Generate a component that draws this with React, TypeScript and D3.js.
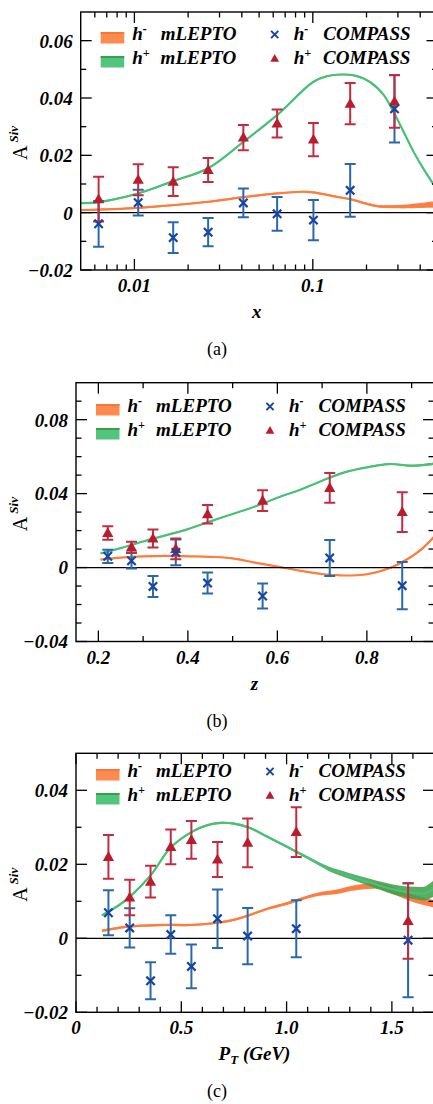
import React from 'react';
import * as d3 from 'd3';

const FONT = '"Liberation Serif", "Times New Roman", serif';

// ---------------- Panel (a): x ----------------
const binsA = [0.0063, 0.0105, 0.0165, 0.0259, 0.0408, 0.0631, 0.1008, 0.162, 0.287];
const hPlusA = [0.0047, 0.0115, 0.0108, 0.0149, 0.0262, 0.0311, 0.0255, 0.038, 0.0388];
const hPlusErrA = [0.0078, 0.0054, 0.005, 0.0042, 0.0044, 0.0049, 0.0058, 0.0072, 0.0092];
const hMinusA = [-0.0039, 0.0035, -0.0087, -0.0068, 0.0034, -0.0004, -0.0026, 0.0078, 0.0362];
const hMinusErrA = [0.008, 0.0045, 0.0054, 0.0049, 0.005, 0.0059, 0.007, 0.0092, 0.0117];
const lepPlusXA = [0.005, 0.0063, 0.0105, 0.0165, 0.0259, 0.0408, 0.063, 0.1, 0.12, 0.145, 0.175, 0.21, 0.25, 0.287, 0.33, 0.371, 0.42, 0.479, 0.5];
const lepPlusA = [0.0033, 0.0037, 0.0067, 0.011, 0.0155, 0.0247, 0.034, 0.0455, 0.0476, 0.0482, 0.0477, 0.0455, 0.041, 0.0345, 0.027, 0.0207, 0.015, 0.0096, 0.0082];
const lepPlusWA = [0.0003, 0.0003, 0.0003, 0.0003, 0.0003, 0.0003, 0.0003, 0.0003, 0.0003, 0.0003, 0.0003, 0.0003, 0.0003, 0.0003, 0.0003, 0.0003, 0.0003, 0.0004, 0.0004];
const lepMinusXA = [0.005, 0.0105, 0.0259, 0.0408, 0.063, 0.087, 0.1, 0.135, 0.162, 0.225, 0.3, 0.4, 0.5];
const lepMinusA = [0.0009, 0.0017, 0.0038, 0.0054, 0.0067, 0.0073, 0.0071, 0.0056, 0.0047, 0.0024, 0.0021, 0.0025, 0.0029];
const lepMinusWA = [0.0003, 0.0003, 0.0003, 0.0003, 0.0003, 0.0003, 0.0003, 0.0003, 0.0003, 0.0004, 0.0006, 0.0009, 0.0012];
const yMajorA = [-0.02, 0, 0.02, 0.04, 0.06];
const yMajorLabelsA = ['\u22120.02', '0', '0.02', '0.04', '0.06'];
const yMinorA = [-0.01, 0.01, 0.03, 0.05];
const xMajorA = [0.01, 0.1];
const xMajorLabelsA = ['0.01', '0.1'];
const xMinorA = [0.006, 0.007, 0.008, 0.009, 0.02, 0.03, 0.04, 0.05, 0.06, 0.07, 0.08, 0.09, 0.2, 0.3, 0.4];

// ---------------- Panel (b): z ----------------
const binsB = [0.221, 0.274, 0.322, 0.373, 0.444, 0.567, 0.717, 0.879];
const hPlusB = [0.0187, 0.011, 0.0157, 0.0101, 0.0288, 0.0362, 0.0431, 0.03];
const hPlusErrB = [0.0036, 0.0029, 0.0049, 0.0056, 0.005, 0.0056, 0.008, 0.0108];
const hMinusB = [0.0061, 0.0037, -0.0102, 0.0082, -0.0084, -0.0154, 0.0052, -0.0098];
const hMinusErrB = [0.0036, 0.0042, 0.0057, 0.007, 0.0057, 0.0068, 0.0097, 0.0128];
const lepPlusXB = [0.205, 0.25, 0.3, 0.35, 0.4, 0.45, 0.5, 0.55, 0.6, 0.65, 0.7, 0.75, 0.8, 0.85, 0.9, 0.95];
const lepPlusB = [0.0076, 0.0105, 0.0141, 0.0174, 0.0208, 0.025, 0.029, 0.033, 0.0378, 0.042, 0.047, 0.0515, 0.0542, 0.056, 0.0551, 0.0562];
const lepPlusWB = [0.0003, 0.0003, 0.0003, 0.0003, 0.0003, 0.0003, 0.0003, 0.0003, 0.0003, 0.0003, 0.0003, 0.0003, 0.0004, 0.0004, 0.0005, 0.0006];
const lepMinusXB = [0.205, 0.25, 0.3, 0.35, 0.4, 0.45, 0.5, 0.55, 0.6, 0.65, 0.7, 0.75, 0.8, 0.85, 0.9, 0.925, 0.95];
const lepMinusB = [0.0043, 0.0054, 0.0061, 0.0063, 0.0061, 0.0058, 0.005, 0.0027, 0.0005, -0.0017, -0.0035, -0.0043, -0.0036, -0.0004, 0.006, 0.0105, 0.0166];
const lepMinusWB = [0.0003, 0.0003, 0.0003, 0.0003, 0.0003, 0.0003, 0.0003, 0.0003, 0.0003, 0.0003, 0.0003, 0.0003, 0.0004, 0.0004, 0.0005, 0.0006, 0.0007];
const yMajorB = [-0.04, 0, 0.04, 0.08];
const yMajorLabelsB = ['\u22120.04', '0', '0.04', '0.08'];
const yMinorB = [-0.03, -0.02, -0.01, 0.01, 0.02, 0.03, 0.05, 0.06, 0.07, 0.09];
const xMajorB = [0.2, 0.4, 0.6, 0.8];
const xMajorLabelsB = ['0.2', '0.4', '0.6', '0.8'];
const xMinorB = [0.3, 0.5, 0.7, 0.9];

// ---------------- Panel (c): P_T ----------------
const binsC = [0.154, 0.255, 0.354, 0.45, 0.548, 0.672, 0.815, 1.046, 1.577];
const hPlusC = [0.022, 0.011, 0.0153, 0.0247, 0.0266, 0.0213, 0.0258, 0.0287, 0.0047];
const hPlusErrC = [0.0059, 0.0048, 0.0043, 0.0047, 0.0051, 0.0047, 0.0066, 0.0067, 0.0102];
const hMinusC = [0.0069, 0.0028, -0.0115, 0.001, -0.0076, 0.0053, 0.0006, 0.0026, -0.0005];
const hMinusErrC = [0.0061, 0.0053, 0.005, 0.0052, 0.0059, 0.0079, 0.0076, 0.0077, 0.0154];
const lepPlusXC = [0.123, 0.2, 0.255, 0.354, 0.449, 0.548, 0.62, 0.688, 0.75, 0.823, 0.9, 1.0, 1.1, 1.2, 1.3, 1.4, 1.5, 1.6, 1.66, 1.7];
const lepPlusC = [0.0062, 0.0088, 0.0112, 0.017, 0.0245, 0.0287, 0.0305, 0.0312, 0.031, 0.0299, 0.0277, 0.0248, 0.0218, 0.0188, 0.0168, 0.015, 0.0133, 0.0123, 0.0122, 0.0135];
const lepPlusWC = [0.0003, 0.0003, 0.0003, 0.0003, 0.0003, 0.0003, 0.0003, 0.0003, 0.0003, 0.0003, 0.0003, 0.0003, 0.0004, 0.0006, 0.0008, 0.001, 0.0013, 0.0016, 0.0019, 0.0022];
const lepMinusXC = [0.123, 0.255, 0.354, 0.45, 0.55, 0.67, 0.75, 0.82, 0.9, 1.0, 1.05, 1.15, 1.23, 1.33, 1.44, 1.5, 1.55, 1.6, 1.7];
const lepMinusC = [0.002, 0.0032, 0.0035, 0.0036, 0.0036, 0.0042, 0.005, 0.0062, 0.0078, 0.0094, 0.0103, 0.0119, 0.0125, 0.0137, 0.0141, 0.013, 0.0118, 0.0108, 0.0093];
const lepMinusWC = [0.0003, 0.0003, 0.0003, 0.0003, 0.0003, 0.0003, 0.0003, 0.0003, 0.0003, 0.0004, 0.0004, 0.0005, 0.0006, 0.0007, 0.0008, 0.0009, 0.0009, 0.001, 0.001];
const yMajorC = [-0.02, 0, 0.02, 0.04];
const yMajorLabelsC = ['\u22120.02', '0', '0.02', '0.04'];
const yMinorC = [-0.01, 0.01, 0.03];
const xMajorC = [0, 0.5, 1.0, 1.5];
const xMajorLabelsC = ['0', '0.5', '1.0', '1.5'];
const xMinorC = [0.1, 0.2, 0.3, 0.4, 0.6, 0.7, 0.8, 0.9, 1.1, 1.2, 1.3, 1.4, 1.6];

// ---------------- styles ----------------
const ORANGE = '#ff7d3b';
const ORANGE_BAND = '#f7773a';
const GREEN = '#48c177';
const GREEN_BAND = '#3b9f48';
const RED = '#b81c2d';
const RED_BAR = '#c12d3f';
const BLUE = '#1745a0';
const BLUE_BAR = '#2a68ad';

const zip = (xs: number[], ys: number[], ws: number[]) => xs.map((x, i) => ({ x, y: ys[i], w: ws[i] }));

type PanelCfg = {
  x: any; y: any; left: number; right: number; top: number; bottom: number;
  bins: number[]; hPlus: number[]; hPlusErr: number[]; hMinus: number[]; hMinusErr: number[];
  lepPlus: { x: number; y: number; w: number }[]; lepMinus: { x: number; y: number; w: number }[];
  yMajor: number[]; yMajorLabels: string[]; yMinor: number[];
  xMajor: number[]; xMajorLabels: string[]; xMinor: number[];
  legendY: number; xTitle: React.ReactNode; caption: string; id: string;
};

const panels: PanelCfg[] = [
  {
    id: 'a',
    x: d3.scaleLog().domain([0.005, 0.5]).range([80.7, 437.5]),
    y: d3.scaleLinear().domain([-0.02, 0.07]).range([270, 12]),
    left: 80.7, right: 437.5, top: 12, bottom: 270,
    bins: binsA, hPlus: hPlusA, hPlusErr: hPlusErrA, hMinus: hMinusA, hMinusErr: hMinusErrA,
    lepPlus: zip(lepPlusXA, lepPlusA, lepPlusWA), lepMinus: zip(lepMinusXA, lepMinusA, lepMinusWA),
    yMajor: yMajorA, yMajorLabels: yMajorLabelsA, yMinor: yMinorA,
    xMajor: xMajorA, xMajorLabels: xMajorLabelsA, xMinor: xMinorA,
    legendY: 39.5, xTitle: 'x', caption: '(a)',
  },
  {
    id: 'b',
    x: d3.scaleLinear().domain([0.15, 0.95]).range([76, 434]),
    y: d3.scaleLinear().domain([-0.04, 0.1]).range([641.5, 382.7]),
    left: 76, right: 434, top: 382.7, bottom: 641.5,
    bins: binsB, hPlus: hPlusB, hPlusErr: hPlusErrB, hMinus: hMinusB, hMinusErr: hMinusErrB,
    lepPlus: zip(lepPlusXB, lepPlusB, lepPlusWB), lepMinus: zip(lepMinusXB, lepMinusB, lepMinusWB),
    yMajor: yMajorB, yMajorLabels: yMajorLabelsB, yMinor: yMinorB,
    xMajor: xMajorB, xMajorLabels: xMajorLabelsB, xMinor: xMinorB,
    legendY: 411.5, xTitle: 'z', caption: '(b)',
  },
  {
    id: 'c',
    x: d3.scaleLinear().domain([0, 1.7]).range([76, 434]),
    y: d3.scaleLinear().domain([-0.02, 0.05]).range([1012.3, 753.3]),
    left: 76, right: 434, top: 753.3, bottom: 1012.3,
    bins: binsC, hPlus: hPlusC, hPlusErr: hPlusErrC, hMinus: hMinusC, hMinusErr: hMinusErrC,
    lepPlus: zip(lepPlusXC, lepPlusC, lepPlusWC), lepMinus: zip(lepMinusXC, lepMinusC, lepMinusWC),
    yMajor: yMajorC, yMajorLabels: yMajorLabelsC, yMinor: yMinorC,
    xMajor: xMajorC, xMajorLabels: xMajorLabelsC, xMinor: xMinorC,
    legendY: 776.5,
    xTitle: (
      <>
        P<tspan fontSize={13} dy={4}>T</tspan>
        <tspan dy={-4}> (GeV)</tspan>
      </>
    ),
    caption: '(c)',
  },
];

const MAJ = 11;
const MIN = 5.5;
const TRI = 'M0,-5.8L5.6,4L-5.6,4Z';
const TRI_S = 'M0,-4.6L4.4,3.2L-4.4,3.2Z';
const CROSS = 'M-4.2,-4.2L4.2,4.2M-4.2,4.2L4.2,-4.2';
const CROSS_S = 'M-3.6,-3.6L3.6,3.6M-3.6,3.6L3.6,-3.6';

function Panel({ p }: { p: PanelCfg }) {
  const { x, y, left, right, top, bottom } = p;
  const clipId = `clip-${p.id}`;
  const curve = d3.curveCatmullRom.alpha(0.5);
  const area = d3.area<{ x: number; y: number; w: number }>()
    .x((d) => x(d.x)).y0((d) => y(d.y - d.w)).y1((d) => y(d.y + d.w))
    .curve(curve);
  const line = d3.line<{ x: number; y: number; w: number }>()
    .x((d) => x(d.x)).y((d) => y(d.y)).curve(curve);
  const tickFont = { fontFamily: FONT, fontWeight: 700, fontStyle: 'italic', fontSize: 19 } as const;
  const legFont = { fontFamily: FONT, fontWeight: 700, fontStyle: 'italic', fontSize: 19 } as const;
  const cy = (top + bottom) / 2;
  const visRight = Math.min(right, 433);
  const lx = left + 20;
  const ly = p.legendY;
  const mx = left + 194;
  const errBar = (xs: number[], vs: number[], es: number[], color: string, key: string) =>
    xs.map((xv, i) => {
      const px = x(xv);
      const y1 = y(vs[i] + es[i]);
      const y2 = y(vs[i] - es[i]);
      return (
        <g key={`${key}${i}`} stroke={color} strokeWidth={2}>
          <line x1={px} x2={px} y1={y1} y2={y2} />
          <line x1={px - 5.5} x2={px + 5.5} y1={y1} y2={y1} />
          <line x1={px - 5.5} x2={px + 5.5} y1={y2} y2={y2} />
        </g>
      );
    });
  return (
    <g>
      <defs>
        <clipPath id={clipId}>
          <rect x={left} y={top} width={right - left} height={bottom - top} />
        </clipPath>
      </defs>
      <g clipPath={`url(#${clipId})`}>
        <path d={area(p.lepMinus) || ''} fill={ORANGE_BAND} fillOpacity={0.9} />
        <path d={line(p.lepMinus) || ''} fill="none" stroke={ORANGE} strokeWidth={2.2} />
        <path d={area(p.lepPlus) || ''} fill={GREEN_BAND} fillOpacity={0.85} />
        <path d={line(p.lepPlus) || ''} fill="none" stroke={GREEN} strokeWidth={2.2} />
        <line x1={left} x2={right} y1={y(0)} y2={y(0)} stroke="#000" strokeWidth={1.3} />
        {errBar(p.bins, p.hMinus, p.hMinusErr, BLUE_BAR, 'bm')}
        {errBar(p.bins, p.hPlus, p.hPlusErr, RED_BAR, 'bp')}
        {p.bins.map((xv, i) => (
          <path key={`t${i}`} d={TRI} transform={`translate(${x(xv)},${y(p.hPlus[i])})`} fill={RED} />
        ))}
        {p.bins.map((xv, i) => (
          <path key={`c${i}`} d={CROSS} transform={`translate(${x(xv)},${y(p.hMinus[i])})`} stroke={BLUE} strokeWidth={2.2} fill="none" />
        ))}
      </g>
      {/* frame */}
      <rect x={left} y={top} width={right - left} height={bottom - top} fill="none" stroke="#000" strokeWidth={1.4} />
      {/* y ticks */}
      {p.yMajor.map((v, i) => (
        <g key={`ym${i}`}>
          <line x1={left} x2={left + MAJ} y1={y(v)} y2={y(v)} stroke="#000" strokeWidth={1.3} />
          <line x1={right} x2={right - MAJ} y1={y(v)} y2={y(v)} stroke="#000" strokeWidth={1.3} />
          <text x={left - 8} y={y(v)} dy="0.36em" textAnchor="end" {...tickFont}>{p.yMajorLabels[i]}</text>
        </g>
      ))}
      {p.yMinor.map((v, i) => (
        <g key={`yn${i}`}>
          <line x1={left} x2={left + MIN} y1={y(v)} y2={y(v)} stroke="#000" strokeWidth={1.3} />
          <line x1={right} x2={right - MIN} y1={y(v)} y2={y(v)} stroke="#000" strokeWidth={1.3} />
        </g>
      ))}
      {/* x ticks */}
      {p.xMajor.map((v, i) => (
        <g key={`xm${i}`}>
          <line x1={x(v)} x2={x(v)} y1={bottom} y2={bottom - MAJ} stroke="#000" strokeWidth={1.3} />
          <line x1={x(v)} x2={x(v)} y1={top} y2={top + MAJ} stroke="#000" strokeWidth={1.3} />
          <text x={x(v)} y={bottom + 22} textAnchor="middle" {...tickFont}>{p.xMajorLabels[i]}</text>
        </g>
      ))}
      {p.xMinor.map((v, i) => (
        <g key={`xn${i}`}>
          <line x1={x(v)} x2={x(v)} y1={bottom} y2={bottom - MIN} stroke="#000" strokeWidth={1.3} />
          <line x1={x(v)} x2={x(v)} y1={top} y2={top + MIN} stroke="#000" strokeWidth={1.3} />
        </g>
      ))}
      {/* legend */}
      <rect x={lx} y={ly - 7.5} width={23.5} height={11.5} fill={ORANGE} fillOpacity={0.9} />
      <rect x={lx} y={ly - 7.5} width={23.5} height={2} fill={ORANGE_BAND} />
      <text x={lx + 31.5} y={ly} {...legFont}>h<tspan fontSize={12} dy={-7}>-</tspan><tspan dy={7} dx={14}>mLEPTO</tspan></text>
      <rect x={lx} y={ly + 16.5} width={23.5} height={11.5} fill={GREEN} fillOpacity={0.95} />
      <rect x={lx} y={ly + 16.5} width={23.5} height={2} fill={GREEN_BAND} />
      <text x={lx + 31.5} y={ly + 24} {...legFont}>h<tspan fontSize={12} dy={-7}>+</tspan><tspan dy={7} dx={11}>mLEPTO</tspan></text>
      <path d={CROSS_S} transform={`translate(${mx},${ly - 5})`} stroke={BLUE} strokeWidth={2} fill="none" />
      <text x={mx + 19} y={ly} {...legFont}>h<tspan fontSize={12} dy={-7}>-</tspan><tspan dy={7} dx={15}>COMPASS</tspan></text>
      <path d={TRI_S} transform={`translate(${mx},${ly + 19})`} fill={RED} />
      <text x={mx + 19} y={ly + 24} {...legFont}>h<tspan fontSize={12} dy={-7}>+</tspan><tspan dy={7} dx={12}>COMPASS</tspan></text>
      {/* y title */}
      <text transform={`translate(27,${cy + 2}) rotate(-90)`} textAnchor="middle" fontFamily={FONT}>
        <tspan fontSize={20}>A</tspan>
        <tspan fontSize={13} fontWeight={700} fontStyle="italic" dy={-9} dx={3}>Siv</tspan>
      </text>
      {/* x title */}
      <text x={(left + visRight) / 2} y={bottom + 48} textAnchor="middle" {...tickFont}>{p.xTitle}</text>
      {/* caption */}
      <text x={217} y={bottom + 85} textAnchor="middle" fontFamily={FONT} fontSize={18}>{p.caption}</text>
    </g>
  );
}

export default function App() {
  return (
    <svg width={433} height={1104} viewBox="0 0 433 1104"
      style={{ position: 'absolute', left: 0, top: 0, background: '#fff' }}>
      <rect x={0} y={0} width={433} height={1104} fill="#fff" />
      {panels.map((p) => <Panel key={p.id} p={p} />)}
    </svg>
  );
}
